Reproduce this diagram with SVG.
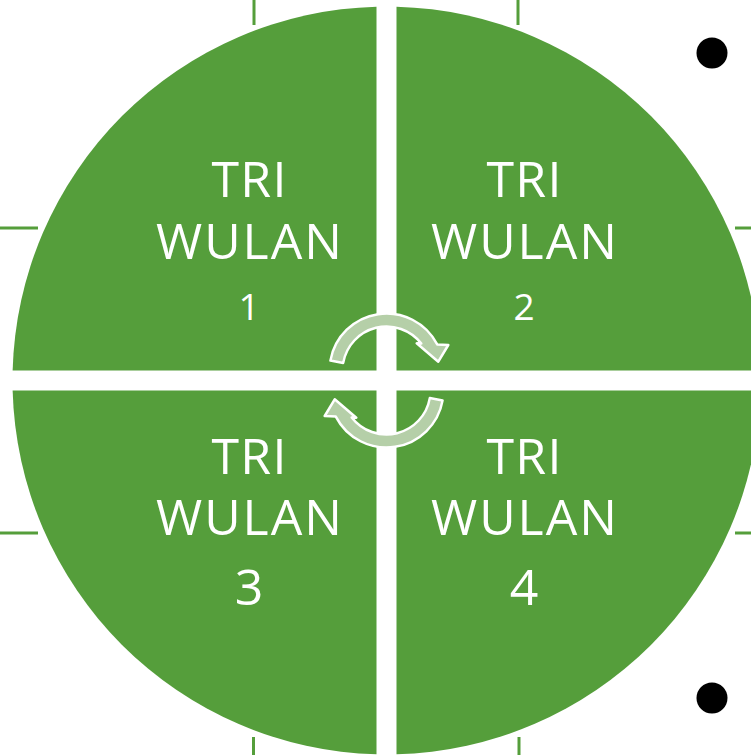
<svg xmlns="http://www.w3.org/2000/svg" xmlns:xlink="http://www.w3.org/1999/xlink" width="751" height="755" viewBox="0 0 751 755">
<style>
.q{fill:#559E3B}
.t{fill:#FFFFFF;font-family:"Open Sans","Noto Sans","Liberation Sans",sans-serif;font-size:50px;text-anchor:middle}
.n{font-size:37px}
.tick{stroke:#559E3B;stroke-width:3;fill:none}
.arrow{fill:#B5CFA8;stroke:#FFFFFF;stroke-width:2.5;stroke-linejoin:round}
.dot{fill:#000000}
</style>
<defs>
<path id="carrow" d="M330.4,360.6 A57,57 0 0 1 437.2,344.4 L448.3,345 L438.3,361.7 L416.7,343.3 L421.3,343.55 A44,44 0 0 0 343.2,362.9 Z"/>
</defs>
<rect width="751" height="755" fill="#FFFFFF"/>
<g id="ticks">
<line class="tick" x1="254" y1="0" x2="254" y2="25"/>
<line class="tick" x1="518" y1="0" x2="518" y2="25"/>
<line class="tick" x1="253.5" y1="737" x2="253.5" y2="755"/>
<line class="tick" x1="519" y1="737" x2="519" y2="755"/>
<line class="tick" x1="0" y1="228" x2="38" y2="228"/>
<line class="tick" x1="0" y1="533" x2="38" y2="533"/>
<line class="tick" x1="735" y1="228" x2="751" y2="228"/>
<line class="tick" x1="735" y1="533" x2="751" y2="533"/>
</g>
<g id="q1">
<path class="q" d="M376.5,370.5 V6.63 A374,374 0 0 0 12.63,370.5 Z"/>
<text class="t" x="249" y="197" textLength="75">TRI</text>
<text class="t" x="249" y="258.5" textLength="186">WULAN</text>
<text class="t n" x="249" y="319.5">1</text>
</g>
<g id="q2">
<path class="q" d="M396.5,370.5 V6.63 A374,374 0 0 1 760.37,370.5 Z"/>
<text class="t" x="524" y="197" textLength="75">TRI</text>
<text class="t" x="524" y="258.5" textLength="186">WULAN</text>
<text class="t n" x="524" y="320">2</text>
</g>
<g id="q3">
<path class="q" d="M376.5,390.5 H12.63 A374,374 0 0 0 376.5,754.37 Z"/>
<text class="t" x="249" y="473.5" textLength="75">TRI</text>
<text class="t" x="249" y="535" textLength="186">WULAN</text>
<text class="t" x="249" y="605">3</text>
</g>
<g id="q4">
<path class="q" d="M396.5,390.5 H760.37 A374,374 0 0 1 396.5,754.37 Z"/>
<text class="t" x="524" y="473.5" textLength="75">TRI</text>
<text class="t" x="524" y="535" textLength="186">WULAN</text>
<text class="t" x="524" y="605">4</text>
</g>
<g id="connectors">
<use xlink:href="#carrow" class="arrow"/>
<use xlink:href="#carrow" class="arrow" transform="rotate(180 386.5 380.5)"/>
</g>
<g id="bullets">
<circle class="dot" cx="712" cy="53" r="15.5"/>
<circle class="dot" cx="712" cy="698" r="15.5"/>
</g>
</svg>
